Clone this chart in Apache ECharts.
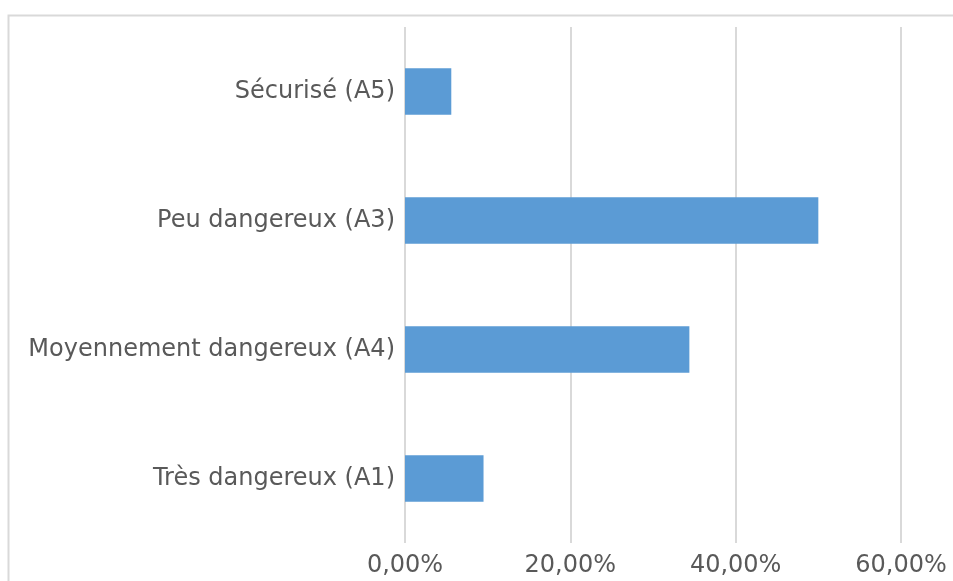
<!DOCTYPE html>
<html>
<head>
<meta charset="utf-8">
<script src="https://cdn.jsdelivr.net/npm/echarts@6/dist/echarts.min.js"></script>
<style>
html,body{margin:0;padding:0;background:#fff;}
#c{width:953px;height:581px;}
</style>
</head>
<body>
<div id="c"></div>
<script>
const categories = ['Très dangereux (A1)', 'Moyennement dangereux (A4)', 'Peu dangereux (A3)', 'Sécurisé (A5)'];
const values = [0.095, 0.344, 0.500, 0.056];
const axisMin = 0;
const axisMax = 0.6;
const axisStep = 0.2;

const chart = echarts.init(document.getElementById('c'), null, {renderer: 'canvas'});
const font = 'DejaVu Sans';
chart.setOption({
  animation: false,
  backgroundColor: '#ffffff',
  graphic: [{
    type: 'rect',
    shape: {x: 8.5, y: 15.5, width: 1000, height: 700},
    style: {fill: 'none', stroke: '#D9D9D9', lineWidth: 2},
    silent: true
  }],
  grid: {left: 405, right: 52, top: 27, bottom: 38, containLabel: false},
  xAxis: {
    type: 'value',
    min: axisMin,
    max: axisMax,
    interval: axisStep,
    axisLine: {show: false},
    axisTick: {show: false},
    splitLine: {show: true, lineStyle: {color: '#D9D9D9', width: 2}},
    axisLabel: {
      color: '#595959',
      fontFamily: font,
      fontSize: 24,
      margin: 11,
      formatter: v => (v * 100).toFixed(2).replace('.', ',') + '%'
    }
  },
  yAxis: {
    type: 'category',
    data: categories,
    axisLine: {show: false},
    axisTick: {show: false},
    splitLine: {show: false},
    axisLabel: {color: '#595959', fontFamily: font, fontSize: 24, margin: 10}
  },
  series: [{
    type: 'bar',
    data: values,
    barCategoryGap: '64%',
    itemStyle: {color: '#5B9BD5'}
  }]
});
</script>
</body>
</html>
